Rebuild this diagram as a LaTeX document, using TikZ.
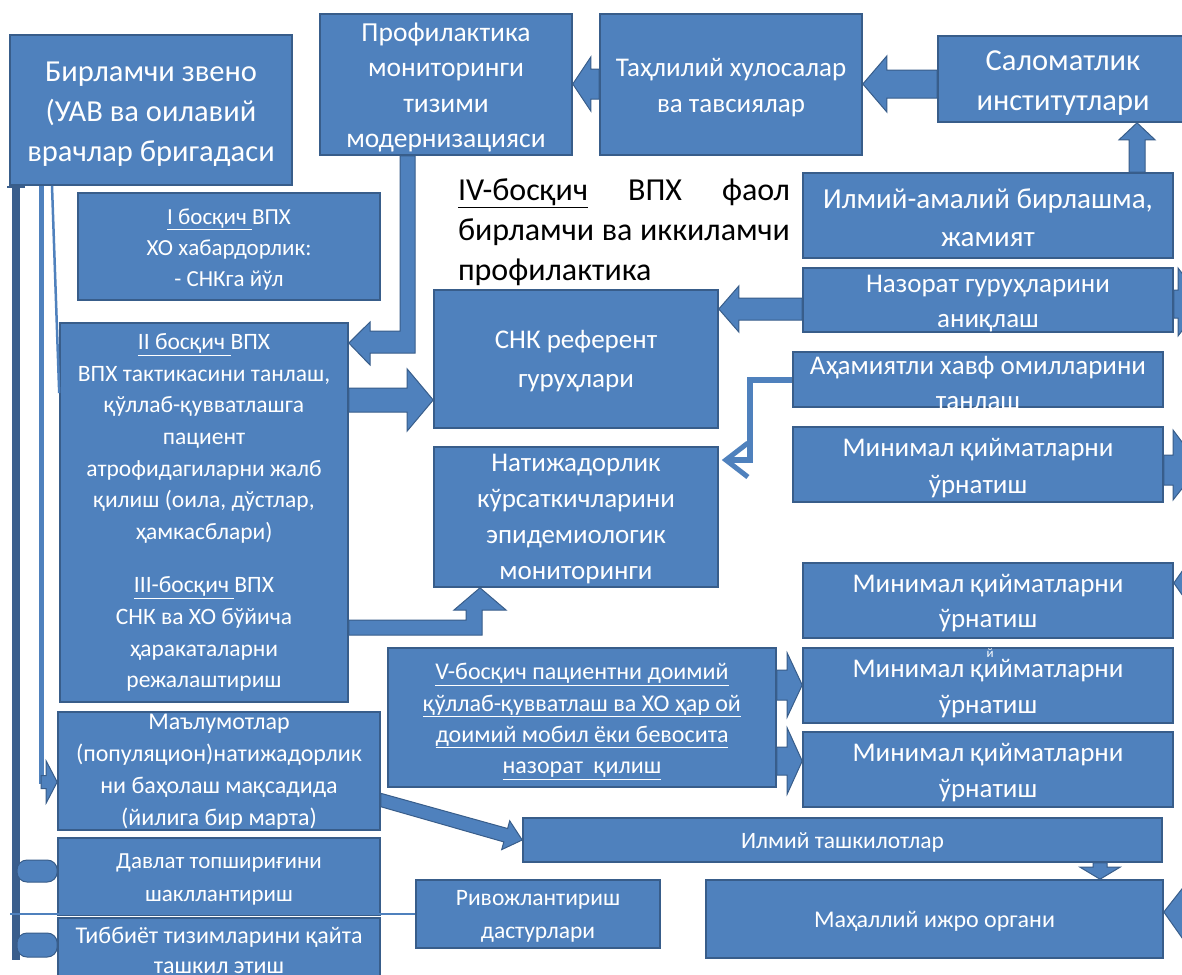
\documentclass[tikz,border=0pt]{standalone}
\usepackage{fontspec}
\setmainfont{Carlito}
\usetikzlibrary{calc,arrows.meta}
\definecolor{boxblue}{RGB}{79,129,189}
\definecolor{boxline}{RGB}{56,93,138}
\definecolor{darkline}{RGB}{58,94,140}
\tikzset{
 bx/.style={draw=boxline, fill=boxblue, line width=1.6pt, inner sep=0pt, shape=rectangle},
 btext/.style={text=white, align=center, inner sep=0pt},
 barr/.style={draw=boxline, fill=boxblue, line width=1pt, line join=miter},
 stub/.style={draw=boxline, fill=boxblue, line width=1pt, rounded corners=10pt},
 conn/.style={draw=boxblue, line width=6pt},
 thinconn/.style={draw=boxblue, line width=2.5pt},
}
\newcommand\fs[2]{\fontsize{#1}{#2}\selectfont}
% \bx[text shift]{name}{x1}{y1}{x2}{y2}{font}{text}
\newcommand\bx[8][3]{%
 \node[bx, minimum width={(#5-#3)*1pt}, minimum height={(#6-#4)*1pt}] (#2) at ({(#3+#5)/2},{(#4+#6)/2}) {};
 \node[btext, font=#7] (#2-t) at ([yshift=-#1pt]#2.center) {#8};}
\newcommand\harr[6]{%
 \draw[barr] let \p1=(#1), \p2=(#2), \n1={ifthenelse(\x2>\x1,1,-1)}, \n2={\x2-\n1*#6pt} in
 (\x1,{-(#3-#4)*1pt}) -- ({\n2*1pt},{-(#3-#4)*1pt}) -- ({\n2*1pt},{-(#3-#5)*1pt}) -- (\x2,{-#3*1pt}) -- ({\n2*1pt},{-(#3+#5)*1pt}) -- ({\n2*1pt},{-(#3+#4)*1pt}) -- (\x1,{-(#3+#4)*1pt}) -- cycle;}
\newcommand\varr[6]{%
 \draw[barr] let \p1=(#1), \p2=(#2), \n1={ifthenelse(\y2>\y1,1,-1)}, \n2={\y2-\n1*#6pt} in
 ({(#3-#4)*1pt},\y1) -- ({(#3-#4)*1pt},{\n2*1pt}) -- ({(#3-#5)*1pt},{\n2*1pt}) -- ({#3*1pt},\y2) -- ({(#3+#5)*1pt},{\n2*1pt}) -- ({(#3+#4)*1pt},{\n2*1pt}) -- ({(#3+#4)*1pt},\y1) -- cycle;}
\begin{document}
\begin{tikzpicture}[x=1pt,y=-1pt]
\useasboundingbox (0,0) rectangle (1182,974);
\fill[white] (0,0) rectangle (1182,974);

% ---- boxes ----
\bx[4]{bir}{10}{35}{292}{185}{\fs{30.5}{40}}{Бирламчи звено\\(УАВ ва оилавий\\врачлар бригадаси}
\bx[3]{prof}{320}{14}{572}{155}{\fs{27.5}{35.5}}{Профилактика\\мониторинги\\тизими\\модернизацияси}
\bx[3]{tahl}{600}{14}{862}{155}{\fs{27}{36}}{Таҳлилий хулосалар\\ва тавсиялар}
\bx[4]{salo}{938}{36}{1188}{122}{\fs{30.5}{40}}{Саломатлик\\институтлари}
\bx[2]{ilmam}{803}{173}{1173}{258}{\fs{29}{38}}{Илмий-амалий бирлашма,\\жамият}
\bx[3]{st1}{78}{193}{380}{300}{\fs{23}{31}}{\underline{I босқич }ВПХ\\ХО хабардорлик:\\- СНКга йўл}
\bx[4]{nazor}{803}{268}{1173}{332}{\fs{27}{35}}{Назорат гуруҳларини\\аниқлаш}
\bx[2]{snk}{434}{290}{718}{428}{\fs{27}{39}}{СНК референт\\гуруҳлари}
\bx[0]{st2}{60}{323}{348}{702}{\fs{23.5}{31.7}}{\underline{II босқич }ВПХ\\ВПХ тактикасини танлаш,\\қўллаб-қувватлашга\\пациент\\атрофидагиларни жалб\\қилиш (оила, дўстлар,\\ҳамкасблари)\\[21.3pt]\underline{III-босқич }ВПХ\\СНК ва ХО бўйича\\ҳаракаталарни\\режалаштириш}
\bx[3]{aham}{793}{352}{1163}{407}{\fs{27}{35}}{Аҳамиятли хавф омилларини\\танлаш}
\bx[2]{natij}{434}{447}{718}{587}{\fs{27}{36}}{Натижадорлик\\кўрсаткичларини\\эпидемиологик\\мониторинги}
\bx[4]{min1}{793}{427}{1163}{502}{\fs{27}{37}}{Минимал қийматларни\\ўрнатиш}
\bx[3]{min2}{803}{563}{1173}{638}{\fs{27}{35}}{Минимал қийматларни\\ўрнатиш}
\bx[3]{min3}{803}{648}{1173}{723}{\fs{27}{36}}{Минимал қийматларни\\ўрнатиш}
\bx[3]{min4}{803}{732}{1173}{807}{\fs{27}{36}}{Минимал қийматларни\\ўрнатиш}
\bx[4]{vst}{388}{648}{776}{787}{\fs{24}{31.3}}{\underline{V-босқич пациентни доимий}\\\underline{қўллаб-қувватлаш ва ХО ҳар ой}\\\underline{доимий мобил ёки бевосита}\\\underline{назорат\ \ қилиш}}
\bx[1]{malum}{58}{712}{380}{830}{\fs{24}{32}}{Маълумотлар\\(популяцион)натижадорлик\\ни баҳолаш мақсадида\\(йилига бир марта)}
\bx[2]{ilmt}{523}{818}{1162}{862}{\fs{23.5}{30}}{Илмий ташкилотлар}
\bx[3]{davl}{58}{838}{380}{915}{\fs{23}{33}}{Давлат топшириғини\\шакллантириш}
\bx[2]{rivo}{416}{880}{660}{948}{\fs{23.5}{33}}{Ривожлантириш\\дастурлари}
\bx[2]{mahal}{706}{880}{1163}{958}{\fs{24}{30}}{Маҳаллий ижро органи}
\bx[0]{tibb}{58}{918}{380}{982}{\fs{24}{30}}{Тиббиёт тизимларини қайта\\ташкил этиш}
\node[text=white, font=\fs{13}{13}, inner sep=0pt] (stray) at (990,653) {й};

% ---- free text ----
\node[font=\fs{32}{40}, align=left, inner sep=0pt, text=black] (iv) at (624,232)
 {\makebox[332pt][s]{\underline{IV-босқич} ВПХ фаол}\\\makebox[332pt][s]{бирламчи ва иккиламчи}\\профилактика};

% ---- block arrows ----
\harr{tahl.west}{prof.east}{84}{15}{27}{18}
\harr{salo.west}{tahl.east}{84}{14}{28}{24}
\varr{ilmam.north}{salo.south}{1137}{8}{18}{17}
\harr{st2.east}{snk.west}{400}{12}{31}{26}
\harr{nazor.west}{snk.east}{309}{11}{23}{20}
\harr{vst.east}{min3.west}{685}{15}{32}{15}
\harr{vst.east}{min4.west}{761}{14}{33}{15}
\varr{ilmt.south}{mahal.north}{1100}{7}{20}{12}
% Profilaktika -> II bosqich (L-shaped)
\draw[barr] (prof.south -| 400,0) -- (prof.south -| 415,0) -- (415,353) -- (370,353) -- (370,365) -- (st2.east |- 0,343) -- (370,322) -- (370,331) -- (400,331) -- cycle;
% III bosqich -> Natijadorlik (L-shaped)
\draw[barr] (st2.east |- 0,620) -- (466,620) -- (466,610) -- (454,610) -- (natij.south -| 480,0) -- (506,610) -- (482,610) -- (482,635) -- (st2.east |- 0,635) -- cycle;
% Malumotlar -> Ilmiy tashkilotlar (diagonal)
\draw[barr] (malum.east |- 0,793.3) -- (507.6,828.5) -- (509.7,820.8) -- (ilmt.west |- 0,840) -- (501.7,849.6) -- (503.8,841.9) -- (malum.east |- 0,806.7) -- cycle;
% Ahamiyatli -> Natijadorlik (thin connector, open head)
\coordinate (k1) at (750,460);
\draw[conn, -{Straight Barb[length=22pt,width=34pt,line width=5pt]}] (aham.west) -- (750,379.5) -- (k1) -- ([xshift=3pt]natij.east |- k1);

% ---- left side connectors ----
\coordinate (d0) at (16,960);
\draw[draw=darkline, line width=8pt] (bir.south -| 16,0) -- (d0);
\draw[draw=darkline, line width=2pt] (7,187) -- (25,187);
\draw[stub] (17,860) rectangle (davl.west |- 0,882);
\draw[stub] (17,933) rectangle (tibb.west |- 0,957);
\draw[draw=boxblue, line width=5pt] (bir.south -| 41,0) -- (41,784);
\harr{41,782}{malum.west}{782}{6.5}{21}{11}
\draw[thinconn] (bir.south -| 52,0) -- (st2.north west |- 0,393);
\draw[draw=boxblue, line width=2pt] (10,914) -- (rivo.west |- 0,914);

% ---- partial arrows at right edge ----
\draw[barr] (nazor.east |- 0,290) -- (1178,290) -- (1178,268) -- (1204,302) -- (1178,336) -- (1178,318) -- (nazor.east |- 0,318) -- cycle;
\draw[barr] (min1.east |- 0,455) -- (1173,455) -- (1173,430) -- (1200,466) -- (1173,500) -- (1173,485) -- (min1.east |- 0,485) -- cycle;
\draw[barr] (min2.east |- 0,583) -- (1190,560) -- (1190,606) -- cycle;
\draw[barr] (mahal.east |- 0,912) -- (1185,885) -- (1185,900) -- (1195,900) -- (1195,925) -- (1185,925) -- (1185,942) -- cycle;
\end{tikzpicture}
\end{document}
